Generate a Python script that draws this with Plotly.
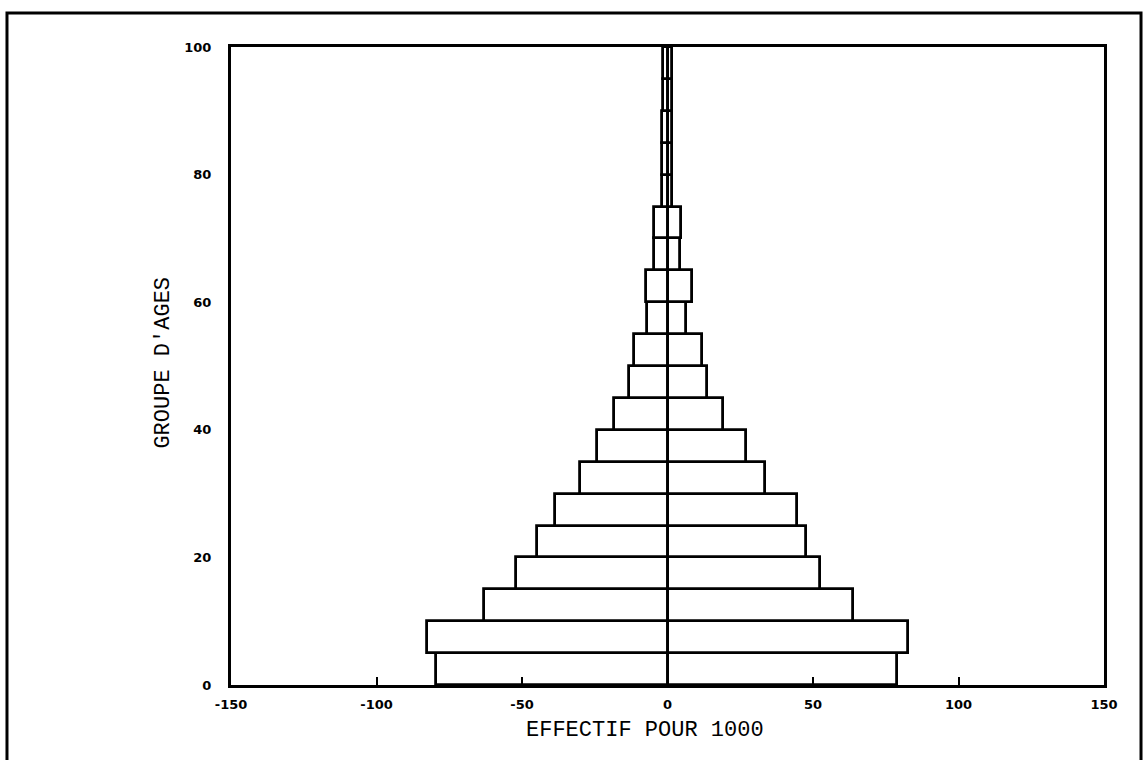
import plotly.graph_objects as go

# Age groups (lower bound of each 5-year group)
age_lower = [0, 5, 10, 15, 20, 25, 30, 35, 40, 45, 50, 55, 60, 65, 70, 75, 80, 85, 90, 95]
# Left side (negative) values, per 1000
left_values = [-79.7, -82.7, -63.0, -52.1, -44.9, -38.7, -30.1, -24.3, -18.3, -13.2,
               -11.4, -7.1, -7.4, -4.5, -4.5, -1.9, -1.8, -1.8, -1.7, -1.7]
# Right side (positive) values, per 1000
right_values = [79.0, 82.8, 63.6, 52.4, 47.5, 44.4, 33.5, 26.9, 19.0, 13.5,
                11.9, 6.4, 8.3, 4.3, 4.5, 1.5, 1.5, 1.4, 1.4, 1.4]

x_tickvals = [-150, -100, -50, 0, 50, 100, 150]
x_ticktext = ["-150", "-100", "-50", "0", "50", "100", "150"]
y_tickvals = [0, 20, 40, 60, 80, 100]
y_ticktext = ["0", "20", "40", "60", "80", "100"]

x_title = "EFFECTIF POUR 1000"
y_title = "GROUPE D'AGES"

group_width = 5
mid = [a + group_width / 2 for a in age_lower]

fig = go.Figure()
for vals in (left_values, right_values):
    fig.add_trace(go.Bar(
        y=mid, x=vals, orientation="h", width=group_width,
        marker=dict(color="white", line=dict(color="black", width=2.8)),
        showlegend=False, hoverinfo="skip",
    ))

fig.update_layout(
    width=1146, height=760,
    margin=dict(l=231, r=42, t=47, b=75),
    paper_bgcolor="white", plot_bgcolor="white",
    barmode="overlay", bargap=0,
    xaxis=dict(
        range=[-150, 150], tickvals=x_tickvals, ticktext=x_ticktext,
        ticks="inside", ticklen=8, tickwidth=2, tickcolor="black",
        showgrid=False, zeroline=False, showline=True, linecolor="black",
        linewidth=3, mirror=True, ticklabelstandoff=5,
        tickfont=dict(family="DejaVu Sans", size=13, color="black", weight="bold"),
    ),
    yaxis=dict(
        range=[0, 100], tickvals=y_tickvals, ticktext=y_ticktext,
        ticks="", showgrid=False, zeroline=False, showline=True, linecolor="black",
        linewidth=3, mirror=True, ticklabelstandoff=14,
        tickfont=dict(family="DejaVu Sans", size=13, color="black", weight="bold"),
    ),
    annotations=[
        dict(text=x_title, xref="paper", yref="paper", x=0.474, y=-0.072,
             showarrow=False, xanchor="center", yanchor="middle",
             font=dict(family="Liberation Mono", size=22, color="black")),
        dict(text=y_title, xref="paper", yref="paper", x=-0.077, y=0.505,
             showarrow=False, xanchor="center", yanchor="middle", textangle=-90,
             font=dict(family="Liberation Mono", size=22, color="black")),
    ],
    shapes=[
        dict(type="rect", xref="paper", yref="paper",
             x0=-0.2566, x1=1.0424, y0=-0.14, y1=1.0533,
             line=dict(color="black", width=3), fillcolor="rgba(0,0,0,0)", layer="above"),
    ],
)

fig.write_html("out.html", config={"displayModeBar": False},
               post_script="document.body.style.margin='0';document.body.style.overflow='hidden';")
